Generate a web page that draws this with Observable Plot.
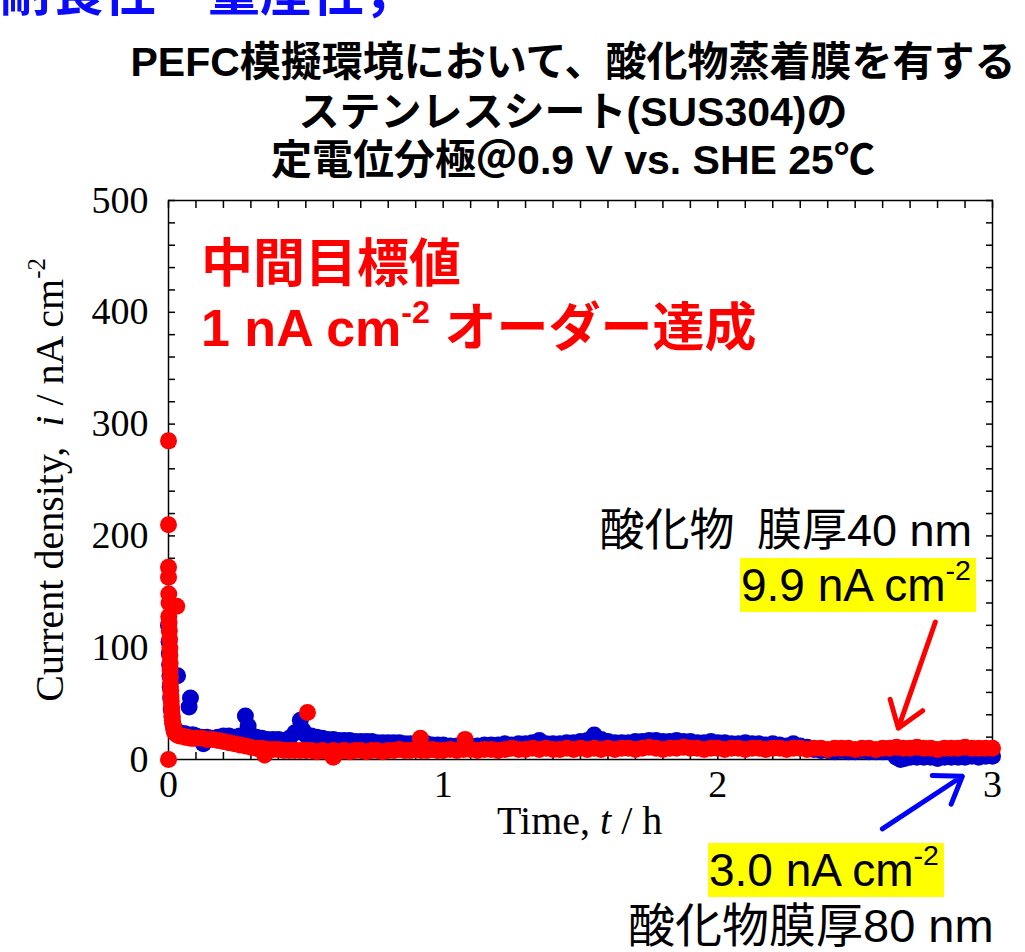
<!DOCTYPE html>
<html><head><meta charset="utf-8">
<script src="https://cdn.jsdelivr.net/npm/d3@7"></script>
<script src="https://cdn.jsdelivr.net/npm/@observablehq/plot@0.6"></script>
<style>
body{margin:0;background:#fff;}
#wrap{position:relative;width:1025px;height:952px;overflow:hidden;background:#fff;}
.t{position:absolute;white-space:nowrap;}
.title{font-family:"Liberation Sans","Noto Sans CJK JP",sans-serif;font-weight:bold;font-size:41px;line-height:41px;color:#000;left:573px;transform:translateX(-50%);}
.red{font-family:"Liberation Sans","Noto Sans CJK JP",sans-serif;font-weight:bold;font-size:52px;line-height:52px;color:#ff0000;left:201px;}
.ann{font-family:"Liberation Sans","Noto Sans CJK JP",sans-serif;font-size:45px;line-height:45px;color:#000;}
.hl{font-family:"Liberation Sans",sans-serif;font-size:46px;line-height:54px;height:54px;background:#ffff00;color:#000;padding:0 5px 0 1px;}
.serif{font-family:"Liberation Serif",serif;font-size:40px;line-height:40px;color:#000;}
sup{font-size:0.62em;line-height:0;vertical-align:0;position:relative;top:-0.72em;}
#chart{position:absolute;left:0;top:180px;}
</style></head><body><div id="wrap">
<div class="t" style="left:0;top:-37px;font-family:'Noto Sans CJK JP',sans-serif;font-weight:bold;font-size:52px;line-height:52px;color:#0a0aff;">耐食性・量産性，</div>
<div class="t title" style="top:42px;">PEFC模擬環境において、酸化物蒸着膜を有する</div>
<div class="t title" style="top:92px;">ステンレスシート(SUS304)の</div>
<div class="t title" style="top:140px;">定電位分極＠0.9 V vs. SHE 25℃</div>
<div id="chart"></div>
<div class="t red" style="top:238px;">中間目標値</div>
<div class="t red" style="top:302px;">1 nA cm<sup>-2</sup> オーダー達成</div>
<div class="t ann" style="right:53px;top:508px;">酸化物&ensp;膜厚40 nm</div>
<div class="t hl" style="left:740px;top:558px;">9.9 nA cm<sup>-2</sup></div>
<div class="t hl" style="left:708px;top:843px;">3.0 nA cm<sup>-2</sup></div>
<div class="t ann" style="left:628px;top:902px;font-size:47px;line-height:47px;">酸化物膜厚80 nm</div>
<div class="t serif" style="left:497px;top:801px;">Time, <i>t</i> / h</div>
<div class="t serif" style="left:50px;top:480px;transform:translate(-50%,-50%) rotate(-90deg);">Current density,&nbsp; <i>i</i> / nA cm<sup>-2</sup></div>
</div>
<script>
// Oxide film 80 nm (blue): [time / h, current density / nA cm^-2]
const blueSpike = [[0,120],[0.002,105],[0.003,95],[0.004,85],[0.005,75],[0.006,65],[0.008,55],[0.01,45],[0.013,38],[0.016,32],[0.02,28],[0.025,26],[0.033,75],[0.03,25],[0.04,24],[0.05,23],[0.06,23],[0.07,22],[0.075,47],[0.08,55],[0.085,22],[0.09,22]];
const blueBand = [[0.1,21],[0.12,20],[0.127,14],[0.14,20],[0.16,19],[0.18,20],[0.2,21],[0.22,21],[0.24,20],[0.26,21],[0.28,39],[0.29,30],[0.3,22],[0.32,20],[0.34,19],[0.36,18],[0.38,18],[0.4,18],[0.42,17],[0.44,19],[0.46,24],[0.48,35],[0.49,26],[0.5,22],[0.52,21],[0.54,20],[0.56,19],[0.58,18],[0.6,18],[0.62,17],[0.64,17],[0.66,17],[0.68,16],[0.7,16],[0.72,16],[0.74,16],[0.76,15],[0.78,15],[0.8,15],[0.82,15],[0.84,15],[0.86,14],[0.88,14],[0.9,14],[0.92,14],[0.94,14],[0.96,13],[0.98,13],[1.0,13],[1.025,12],[1.05,12],[1.075,11],[1.1,12],[1.125,12],[1.15,13],[1.175,13],[1.2,13],[1.225,14],[1.25,13],[1.275,14],[1.3,14],[1.325,15],[1.35,17],[1.375,14],[1.4,14],[1.425,14],[1.45,15],[1.475,15],[1.5,16],[1.525,17],[1.55,22],[1.575,18],[1.6,16],[1.625,15],[1.65,15],[1.675,15],[1.7,16],[1.725,16],[1.75,17],[1.775,17],[1.8,16],[1.825,16],[1.85,17],[1.875,16],[1.9,16],[1.925,15],[1.95,15],[1.975,16],[2.0,15],[2.025,15],[2.05,14],[2.075,14],[2.1,15],[2.125,14],[2.15,14],[2.175,13],[2.2,14],[2.225,13],[2.25,12],[2.275,14],[2.3,12],[2.325,11],[2.35,9],[2.375,8],[2.4,8],[2.425,7],[2.45,8],[2.475,7],[2.5,7],[2.525,8],[2.55,7],[2.575,7],[2.6,7],[2.625,7],[2.65,2],[2.665,0],[2.68,1],[2.7,2],[2.725,2],[2.75,2],[2.775,2],[2.8,1],[2.825,2],[2.85,2],[2.875,2],[2.9,2],[2.925,3],[2.95,2],[2.975,3],[3.0,3]];
// Oxide film 40 nm (red)
const redSpike = [[0,285],[0,210],[0,172],[0,163],[0.001,148],[0.002,140],[0.03,137],[0.001,128],[0.002,122],[0.003,115],[0.004,108],[0.005,100],[0.005,93],[0.006,86],[0.006,80],[0.007,74],[0.007,68],[0.008,62],[0.009,57],[0.01,52],[0.011,47],[0.012,43],[0.013,39],[0.014,35],[0.016,32],[0.018,29],[0.02,26],[0.023,24],[0.027,23],[0.032,22],[0.04,21],[0.05,21],[0.06,20],[0.07,20],[0.08,19],[0.09,19],[0,0]];
const redBand = [[0.1,19],[0.12,19],[0.14,18],[0.16,18],[0.18,17],[0.2,16],[0.22,15],[0.24,14],[0.26,13],[0.28,12],[0.3,11],[0.32,10],[0.34,10],[0.35,4],[0.36,9],[0.38,9],[0.4,9],[0.42,8],[0.44,8],[0.46,8],[0.48,8],[0.506,42],[0.5,8],[0.52,8],[0.54,7],[0.56,8],[0.58,7],[0.6,2],[0.6,8],[0.62,7],[0.64,8],[0.66,7],[0.68,8],[0.7,8],[0.72,7],[0.74,8],[0.76,8],[0.78,7],[0.8,8],[0.82,8],[0.84,9],[0.86,8],[0.88,8],[0.9,9],[0.917,19],[0.92,8],[0.94,8],[0.96,9],[0.98,8],[1.0,8],[1.025,9],[1.05,8],[1.075,9],[1.08,18],[1.1,9],[1.125,8],[1.15,9],[1.175,9],[1.2,8],[1.225,9],[1.25,10],[1.275,9],[1.3,9],[1.325,10],[1.35,9],[1.375,10],[1.4,9],[1.425,9],[1.45,10],[1.475,9],[1.5,10],[1.525,9],[1.55,10],[1.575,9],[1.6,10],[1.625,9],[1.65,10],[1.675,10],[1.7,9],[1.725,10],[1.75,11],[1.775,10],[1.8,9],[1.825,10],[1.85,10],[1.875,11],[1.9,10],[1.925,10],[1.95,9],[1.975,10],[2.0,10],[2.025,9],[2.05,10],[2.075,10],[2.1,9],[2.125,10],[2.15,10],[2.175,9],[2.2,10],[2.225,10],[2.25,9],[2.275,10],[2.3,10],[2.325,9],[2.35,10],[2.375,10],[2.4,9],[2.425,10],[2.45,10],[2.475,10],[2.5,9],[2.525,10],[2.55,10],[2.575,9],[2.6,10],[2.625,10],[2.65,11],[2.675,10],[2.7,10],[2.725,11],[2.75,10],[2.775,10],[2.8,9],[2.825,10],[2.85,10],[2.875,10],[2.9,11],[2.925,10],[2.95,10],[2.975,10],[3.0,10]];
// Ticks
const xMajorTicks = [0, 1, 2, 3];
const xMinorTicks = [0,0.1,0.2,0.3,0.4,0.5,0.6,0.7,0.8,0.9,1,1.1,1.2,1.3,1.4,1.5,1.6,1.7,1.8,1.9,2,2.1,2.2,2.3,2.4,2.5,2.6,2.7,2.8,2.9,3];
const yMajorTicks = [0, 100, 200, 300, 400, 500];
const yMinorTicks = [0,20,40,60,80,100,120,140,160,180,200,220,240,260,280,300,320,340,360,380,400,420,440,460,480,500];
// Annotation arrows (data coordinates)
const redArrow = [{x1: 2.792, y1: 123, x2: 2.657, y2: 28}];
const blueArrow = [{x1: 2.599, y1: -62, x2: 2.890, y2: -15}];

const blueColor = "#0000cc", redColor = "#ff0000";
const tickOpts = {tickSize: -7, fill: "none", stroke: "#000", strokeWidth: 1.5, label: null};
const chart = Plot.plot({
  width: 1025, height: 670,
  marginTop: 20, marginBottom: 91, marginLeft: 168, marginRight: 33,
  style: {fontFamily: '"Liberation Serif", serif', fontSize: "38px", color: "#000", background: "transparent", overflow: "visible"},
  x: {domain: [0, 3]},
  y: {domain: [0, 500]},
  marks: [
    Plot.frame({stroke: "#000", strokeWidth: 1.5}),
    Plot.axisX({anchor: "bottom", ticks: xMinorTicks, ...tickOpts}),
    Plot.axisX({anchor: "top", ticks: xMinorTicks, ...tickOpts}),
    Plot.axisY({anchor: "left", ticks: yMinorTicks, ...tickOpts}),
    Plot.axisY({anchor: "right", ticks: yMinorTicks, ...tickOpts}),
    Plot.axisX({anchor: "bottom", ticks: xMajorTicks, tickSize: 0, tickPadding: 11, label: null, tickFormat: d3.format("d")}),
    Plot.axisY({anchor: "left", ticks: yMajorTicks, tickSize: 0, tickPadding: 20, label: null, tickFormat: d3.format("d")}),
    Plot.dot(blueSpike.concat(blueBand), {x: d => d[0], y: d => d[1], r: 8.5, fill: blueColor}),
    Plot.dot(redSpike.concat(redBand), {x: d => d[0], y: d => d[1], r: 8.5, fill: redColor}),
    Plot.arrow(redArrow, {x1: "x1", y1: "y1", x2: "x2", y2: "y2", stroke: redColor, strokeWidth: 5, headLength: 9, headAngle: 70}),
    Plot.arrow(blueArrow, {x1: "x1", y1: "y1", x2: "x2", y2: "y2", stroke: "#0000ff", strokeWidth: 5, headLength: 9, headAngle: 70})
  ]
});
document.getElementById("chart").appendChild(chart);
</script>
</body></html>
